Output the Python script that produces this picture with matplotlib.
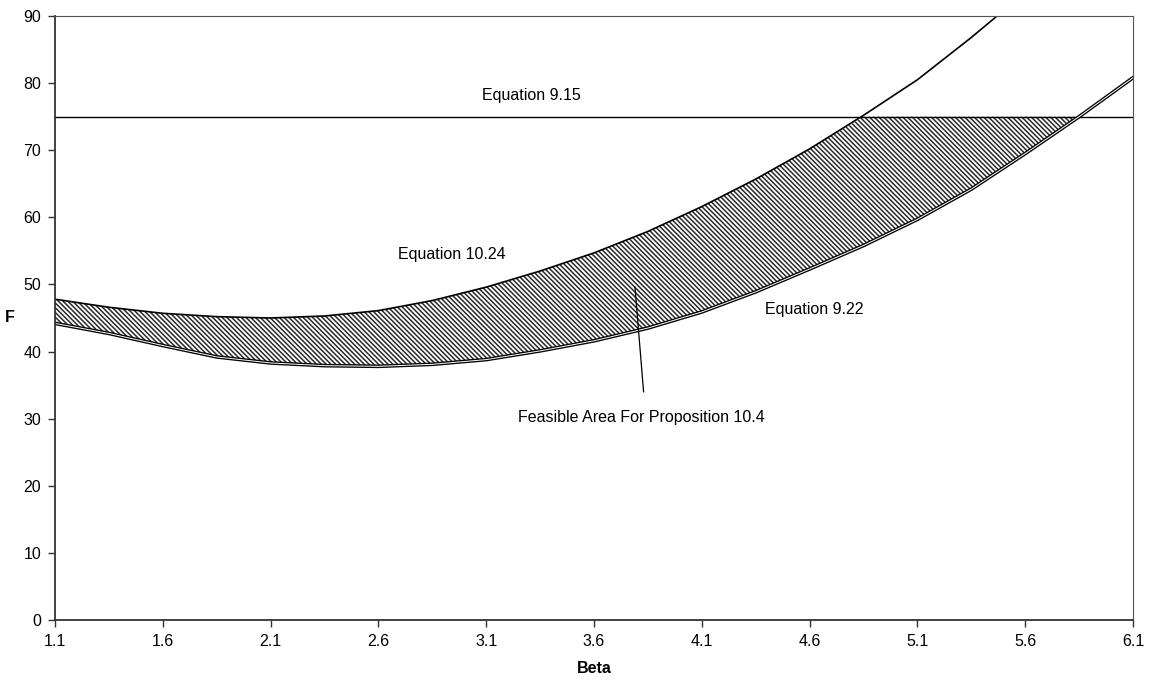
import numpy as np
import matplotlib
matplotlib.use("Agg")
import matplotlib.pyplot as plt

plt.rcParams['font.family'] = ['Liberation Sans', 'DejaVu Sans']
plt.rcParams['hatch.linewidth'] = 1.1
plt.rcParams['hatch.color'] = '#2a2a2a'

# valores
beta = [1.1, 1.35, 1.6, 1.85, 2.1, 2.35, 2.6, 2.85, 3.1, 3.35, 3.6,
        3.85, 4.1, 4.35, 4.6, 4.85, 5.1, 5.35, 5.6, 5.85, 6.1]
eq_10_24 = [47.8, 46.6, 45.7, 45.2, 45.0, 45.3, 46.1, 47.6, 49.6, 52.0, 54.7,
            57.9, 61.6, 65.7, 70.2, 75.2, 80.5, 86.8, 93.5, 100.0, 106.5]
eq_9_22 = [44.2, 42.7, 40.9, 39.2, 38.3, 37.9, 37.8, 38.1, 38.8, 40.1, 41.6,
           43.5, 45.9, 48.9, 52.3, 55.8, 59.7, 64.2, 69.5, 75.0, 80.8]
eq_9_15 = 75

x_ticks = [1.1, 1.6, 2.1, 2.6, 3.1, 3.6, 4.1, 4.6, 5.1, 5.6, 6.1]
y_ticks = [0, 10, 20, 30, 40, 50, 60, 70, 80, 90]

fs = 11.5

fig = plt.figure(figsize=(11.53, 6.81), dpi=100)
ax = fig.add_axes([55 / 1153, 1 - 620 / 681, (1133 - 55) / 1153, (620 - 16) / 681])

b = np.array(beta)
sup = np.minimum(np.array(eq_10_24), eq_9_15)
inf = np.array(eq_9_22)

# area viavel (hachurada)
ax.fill_between(b, inf, sup, where=inf <= sup, interpolate=True,
                facecolor='white', edgecolor='#2a2a2a', hatch='\\' * 7, linewidth=0)

ax.axhline(eq_9_15, color='black', lw=1.0)
ax.plot(b, eq_10_24, color='black', lw=1.2)
# linha dupla da equacao 9.22
ax.plot(b, eq_9_22, color='black', lw=2.6)
ax.plot(b, eq_9_22, color='white', lw=0.7)

ax.set_xlim(1.1, 6.1)
ax.set_ylim(0, 90)
ax.set_xticks(x_ticks)
ax.set_xticklabels([f"{v:.1f}" for v in x_ticks])
ax.set_yticks(y_ticks)
ax.tick_params(direction='out', length=5, width=1, colors='#333333',
               labelsize=fs, labelcolor='black', pad=5)

for s in ['left', 'bottom']:
    ax.spines[s].set_color('#333333')
    ax.spines[s].set_linewidth(1.3)
for s in ['top', 'right']:
    ax.spines[s].set_color('#555555')
    ax.spines[s].set_linewidth(0.8)

ax.set_xlabel('Beta', fontsize=fs, fontweight='bold', labelpad=9)
ax.set_ylabel('F', fontsize=fs, fontweight='bold', rotation=0, labelpad=10, va='center')

ax.text(3.31, 78.2, 'Equation 9.15', fontsize=fs, ha='center', va='center')
ax.text(2.94, 54.4, 'Equation 10.24', fontsize=fs, ha='center', va='center')
ax.text(4.62, 46.2, 'Equation 9.22', fontsize=fs, ha='center', va='center')
ax.text(3.82, 30.1, 'Feasible Area For Proposition 10.4', fontsize=fs, ha='center', va='center')
ax.plot([3.79, 3.83], [49.6, 34.0], color='black', lw=0.9)

fig.savefig('out.png', dpi=100)
